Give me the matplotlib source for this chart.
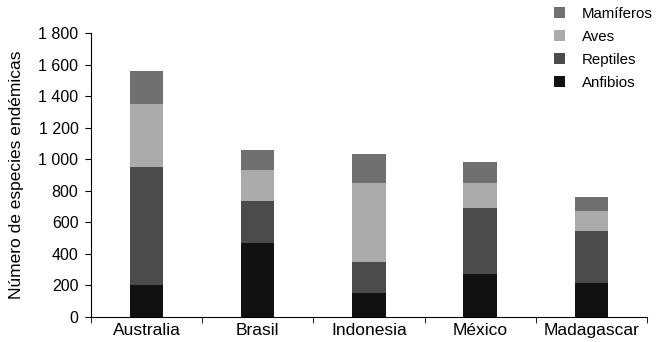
import matplotlib
matplotlib.use('Agg')
import matplotlib.pyplot as plt
import numpy as np

plt.rcParams['font.family'] = ['Liberation Sans', 'DejaVu Sans']

paises = ['Australia', 'Brasil', 'Indonesia', 'México', 'Madagascar']
anfibios = [200, 470, 150, 270, 215]
reptiles = [750, 265, 200, 420, 330]
aves = [400, 195, 500, 160, 125]
mamiferos = [210, 130, 185, 130, 90]
yticks = [0, 200, 400, 600, 800, 1000, 1200, 1400, 1600, 1800]

series = [('Anfibios', anfibios, '#111111'),
          ('Reptiles', reptiles, '#4b4b4b'),
          ('Aves', aves, '#ababab'),
          ('Mamíferos', mamiferos, '#707070')]

fig = plt.figure(figsize=(6.69, 3.42), dpi=100)
ax = fig.add_axes([0.136, 0.073, 0.831, 0.8305])

x = np.arange(len(paises))
bottom = np.zeros(len(paises))
handles = []
for name, vals, col in series:
    h = ax.bar(x, vals, 0.30, bottom=bottom, color=col, label=name)
    handles.append(h)
    bottom += np.array(vals)

ax.set_xlim(-0.5, len(paises) - 0.5)
ax.set_ylim(0, 1800)
ax.set_yticks(yticks)
ax.set_yticklabels([f'{v:,}'.replace(',', ' ') for v in yticks], fontsize=11.5)
ax.set_xticks(x)
ax.set_xticklabels(paises, fontsize=12.5)
ax.set_xticks(np.arange(-0.5, len(paises)), minor=True)
ax.tick_params(axis='x', which='major', length=0, pad=4)
ax.tick_params(axis='x', which='minor', length=4, direction='out')
ax.tick_params(axis='y', length=4, direction='out', pad=5)
ax.set_ylabel('Número de especies endémicas', fontsize=12.5, labelpad=10)

for s in ['top', 'right']:
    ax.spines[s].set_visible(False)

ax.legend(handles[::-1], [s[0] for s in series][::-1], loc='upper left',
          bbox_to_anchor=(0.822, 1.112), frameon=False, fontsize=10.8,
          handlelength=0.75, handleheight=0.75, handletextpad=1.1,
          labelspacing=0.6, borderaxespad=0)

fig.savefig('out.png', dpi=100)
